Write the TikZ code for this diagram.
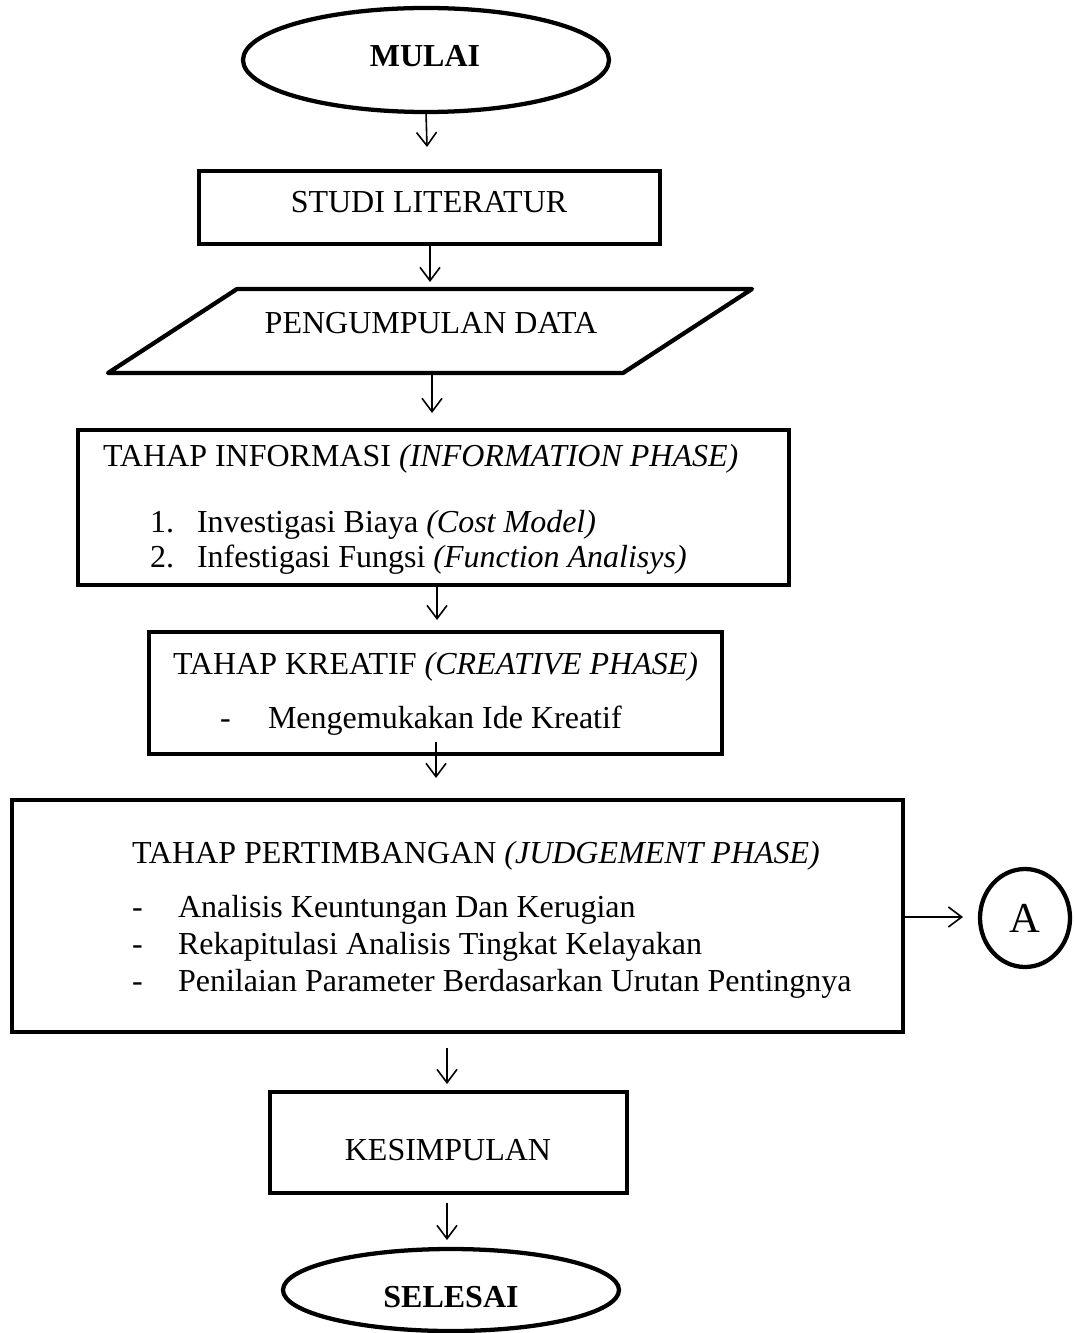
\documentclass[tikz,border=0pt]{standalone}
\usepackage{fontspec}
\setmainfont{Liberation Serif}
\usetikzlibrary{shapes.geometric,arrows.meta,fit}
\begin{document}
\begin{tikzpicture}[x=0.75pt,y=-0.75pt,
  every node/.style={inner sep=0pt,outer sep=0pt},
  txt/.style={font=\fontsize{24pt}{28pt}\selectfont,anchor=base west},
  ctxt/.style={font=\fontsize{24pt}{28pt}\selectfont,anchor=base},
  btxt/.style={font=\fontsize{24pt}{28pt}\selectfont\bfseries,anchor=base},
  box/.style={draw,line width=3.2pt,rectangle},
  term/.style={draw,line width=3.2pt,ellipse},
  arr/.style={line width=1.2pt,-{Straight Barb[length=10pt,width=15pt,line width=1.2pt]}}]
\useasboundingbox (0,0) rectangle (1073,1333);

% MULAI
\node[term,minimum width=274.5pt,minimum height=78pt] (mulai) at (426,60) {};
\node[btxt] (tmulai) at (425,67) {MULAI};

% STUDI LITERATUR
\node[box,fit={(199,171) (660,244)}] (studi) {};
\node[ctxt] (tstudi) at (429,213) {STUDI LITERATUR};

% PENGUMPULAN DATA (parallelogram)
\draw[line width=3.2pt,line join=round] (237,289) -- (752,289) -- (623,373) -- (108,373) -- cycle;
\coordinate (databot) at (432,373);
\node[ctxt] (tdata) at (431,334) {PENGUMPULAN DATA};

% INFORMATION PHASE
\node[box,fit={(78,430) (789,585)}] (info) {};
\node[txt] (tinfo) at (103,466) {TAHAP INFORMASI \textit{(INFORMATION PHASE)}};
\node[txt] (n1) at (150,532) {1.};
\node[txt] (i1) at (197,532) {Investigasi Biaya \textit{(Cost Model)}};
\node[txt] (n2) at (150,567) {2.};
\node[txt] (i2) at (197,567) {Infestigasi Fungsi \textit{(Function Analisys)}};

% CREATIVE PHASE
\node[box,fit={(149,632) (722,754)}] (kreatif) {};
\node[txt] (tkreatif) at (173,674) {TAHAP KREATIF \textit{(CREATIVE PHASE)}};
\node[txt] (d0) at (220,728) {-};
\node[txt] (k1) at (268,728) {Mengemukakan Ide Kreatif};

% JUDGEMENT PHASE
\node[box,fit={(12,800) (903,1032)}] (judge) {};
\node[txt] (tjudge) at (132,863) {TAHAP PERTIMBANGAN \textit{(JUDGEMENT PHASE)}};
\node[txt] (d1) at (132,917) {-};
\node[txt] (j1) at (178,917) {Analisis Keuntungan Dan Kerugian};
\node[txt] (d2) at (132,954) {-};
\node[txt] (j2) at (178,954) {Rekapitulasi Analisis Tingkat Kelayakan};
\node[txt] (d3) at (132,991) {-};
\node[txt] (j3) at (178,991) {Penilaian Parameter Berdasarkan Urutan Pentingnya};

% connector A
\node[draw,line width=3.2pt,ellipse,minimum width=67.5pt,minimum height=73.5pt,
  font=\fontsize{32pt}{34pt}\selectfont] (A) at (1025,918) {A};

% KESIMPULAN
\node[box,fit={(270,1092) (627,1193)}] (kes) {};
\node[ctxt] (tkes) at (448,1160) {KESIMPULAN};

% SELESAI
\node[term,minimum width=252pt,minimum height=61.5pt] (selesai) at (451,1290) {};
\node[btxt] (tselesai) at (451,1307) {SELESAI};

% arrows
\coordinate (e1) at (427,147);
\coordinate (e2) at (430,282);
\coordinate (e3) at (432,413);
\coordinate (s4) at (437,585);
\coordinate (e4) at (437,620);
\coordinate (s5) at (436,742);
\coordinate (e5) at (436,778);
\coordinate (s6) at (447,1048);
\coordinate (e6) at (447,1084);
\coordinate (s7) at (447,1203);
\coordinate (e7) at (447,1240);
\coordinate (e8) at (963,917);

\draw[arr] (mulai.south) -- (e1);
\draw[arr] (studi.south -| e2) -- (e2);
\draw[arr] (databot) -- (e3);
\draw[arr] (s4) -- (e4);
\draw[arr] (s5) -- (e5);
\draw[arr] (s6) -- (e6);
\draw[arr] (s7) -- (e7);
\draw[arr] (judge.east |- e8) -- (e8);
\end{tikzpicture}
\end{document}
